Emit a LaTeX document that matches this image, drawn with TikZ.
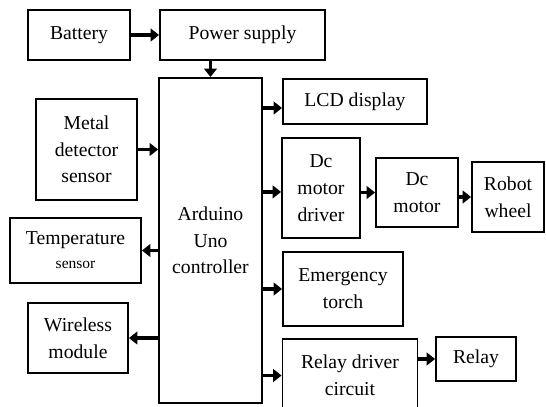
\documentclass[tikz,border=0pt]{standalone}
\usepackage{fontspec}
\setmainfont{Liberation Serif}
\usepackage{tikz}
\usetikzlibrary{arrows.meta}
\tikzset{
  bdblock/.style={rectangle, draw, line width=1.3pt, fill=white, inner sep=1pt,
                  align=center, font=\fontsize{14}{19}\selectfont},
  bdlink/.style={draw, line width=2.8pt,
                 -{Triangle[length=6pt, width=9pt]}},
  bdsmall/.style={font=\fontsize{10}{12}\selectfont}
}

\begin{document}
\begin{tikzpicture}[
    x=0.025cm, y=-0.025cm,
    % one unit is one pixel of the original, measured from the top
    ctrl/.style={bdblock, minimum width=2.575cm, minimum height=8.125cm}
]
  \useasboundingbox (0,0) rectangle (546,407);
  % Supply chain along the top
  \node[bdblock, minimum width=2.55cm, minimum height=1.25cm]
    (battery) at (79,35) {Battery};
  \node[bdblock, minimum width=4.125cm, minimum height=1.25cm]
    (power) at (242.5,35) {Power supply};
  % The controller in the middle
  \node[ctrl] (arduino) at (210.5,240.5) {Arduino\\Uno\\controller};
  % Inputs and outputs on the left
  \node[bdblock, minimum width=2.525cm, minimum height=2.525cm]
    (metal) at (86.5,149.5) {Metal\\detector\\sensor};
  \node[bdblock, minimum width=3.275cm, minimum height=1.625cm]
    (temp) at (75.5,250.5) {Temperature\\[-2pt]{\fontsize{11}{13}\selectfont sensor}};
  \node[bdblock, minimum width=2.5cm, minimum height=1.75cm]
    (wireless) at (78,338) {Wireless\\module};
  % Outputs on the right
  \node[bdblock, minimum width=3.6cm, minimum height=1.125cm]
    (lcd) at (355,101.5) {LCD display};
  \node[bdblock, minimum width=1.95cm, minimum height=2.5cm]
    (driver) at (321,188) {Dc\\motor\\driver};
  \node[bdblock, minimum width=2.05cm, minimum height=1.725cm]
    (motor) at (417,192.5) {Dc\\motor};
  \node[bdblock, minimum width=1.8cm, minimum height=1.75cm]
    (wheel) at (508,197) {Robot\\wheel};
  \node[bdblock, minimum width=3.0cm, minimum height=1.85cm]
    (torch) at (343,289) {Emergency\\torch};
  \node[bdblock, minimum width=3.375cm, minimum height=1.825cm]
    (relaydrv) at (350,375.5) {Relay driver\\circuit};
  \node[bdblock, minimum width=2.0cm, minimum height=1.1cm]
    (relay) at (476,359) {Relay};
  % Connections
  \draw[bdlink] (battery) -- (power);
  \draw[bdlink] (arduino.north |- power.south) -- (arduino.north);
  \draw[bdlink] (metal.east) -- (metal.east -| arduino.west);
  \draw[bdlink] (temp.east -| arduino.west) -- (temp.east);
  \draw[bdlink] (wireless.east -| arduino.west) -- (wireless.east);
  \draw[bdlink] ([yshift=-4.6pt]lcd.west -| arduino.east) -- ([yshift=-4.6pt]lcd.west);
  \draw[bdlink] ([yshift=-2.8pt]driver.west -| arduino.east) -- ([yshift=-2.8pt]driver.west);
  \draw[bdlink] (torch.west -| arduino.east) -- (torch.west);
  \draw[bdlink] (relaydrv.west -| arduino.east) -- (relaydrv.west);
  \draw[bdlink] (motor.west -| driver.east) -- (motor.west);
  \draw[bdlink] (wheel.west -| motor.east) -- (wheel.west);
  \draw[bdlink] (relay.west -| relaydrv.east) -- (relay.west);
\end{tikzpicture}
\end{document}
